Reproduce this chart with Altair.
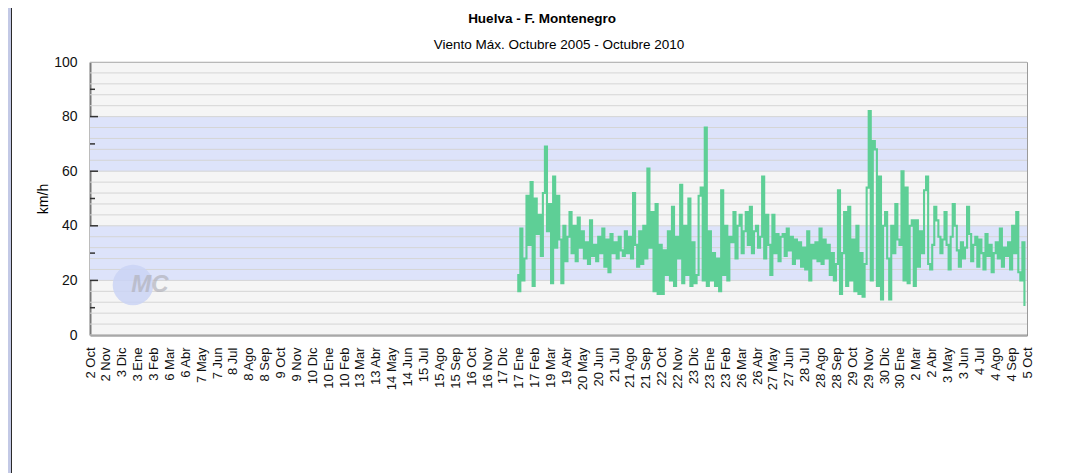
import json
import altair as alt
import pandas as pd

# ---------------- text ----------------
TITLE = "Huelva - F. Montenegro"
SUBTITLE = "Viento Máx. Octubre 2005 - Octubre 2010"
Y_TITLE = "km/h"

# ---------------- x tick labels (as printed) and their dates ----------------
TICK_LABELS = [
    "2 Oct", "2 Nov", "3 Dic", "3 Ene", "3 Feb", "6 Mar", "6 Abr", "7 May", "7 Jun", "8 Jul",
    "8 Ago", "8 Sep", "9 Oct", "9 Nov", "10 Dic", "10 Ene", "10 Feb", "13 Mar", "13 Abr", "14 May",
    "14 Jun", "15 Jul", "15 Ago", "15 Sep", "16 Oct", "16 Nov", "17 Dic", "17 Ene", "17 Feb", "19 Mar",
    "19 Abr", "20 May", "20 Jun", "21 Jul", "21 Ago", "21 Sep", "22 Oct", "22 Nov", "23 Dic", "23 Ene",
    "23 Feb", "26 Mar", "26 Abr", "27 May", "27 Jun", "28 Jul", "28 Ago", "28 Sep", "29 Oct", "29 Nov",
    "30 Dic", "30 Ene", "2 Mar", "2 Abr", "3 May", "3 Jun", "4 Jul", "4 Ago", "4 Sep", "5 Oct",
]
TICK_DATES = [
    "2005-10-02", "2005-11-02", "2005-12-03", "2006-01-03", "2006-02-03", "2006-03-06", "2006-04-06",
    "2006-05-07", "2006-06-07", "2006-07-08", "2006-08-08", "2006-09-08", "2006-10-09", "2006-11-09",
    "2006-12-10", "2007-01-10", "2007-02-10", "2007-03-13", "2007-04-13", "2007-05-14", "2007-06-14",
    "2007-07-15", "2007-08-15", "2007-09-15", "2007-10-16", "2007-11-16", "2007-12-17", "2008-01-17",
    "2008-02-17", "2008-03-19", "2008-04-19", "2008-05-20", "2008-06-20", "2008-07-21", "2008-08-21",
    "2008-09-21", "2008-10-22", "2008-11-22", "2008-12-23", "2009-01-23", "2009-02-23", "2009-03-26",
    "2009-04-26", "2009-05-27", "2009-06-27", "2009-07-28", "2009-08-28", "2009-09-28", "2009-10-29",
    "2009-11-29", "2009-12-30", "2010-01-30", "2010-03-02", "2010-04-02", "2010-05-03", "2010-06-03",
    "2010-07-04", "2010-08-04", "2010-09-04", "2010-10-05",
]

# ---------------- series: max wind (km/h), one reading every 4 days ----------------
SERIES_START = "2008-01-14"
SERIES_STEP_DAYS = 4
WIND_MAX = [
    22, 16, 39, 20, 28, 51, 33, 56, 18, 50, 37, 44, 29, 52, 69, 38, 48, 19, 58, 32,
    51, 35, 19, 40, 27, 36, 45, 30, 40, 27, 43, 32, 38, 28, 34, 26, 42, 29, 33, 27,
    36, 30, 39, 25, 35, 23, 37, 30, 34, 28, 36, 31, 29, 38, 30, 36, 28, 52, 33, 25,
    38, 26, 40, 28, 61, 32, 45, 16, 48, 15, 33, 15, 31, 22, 38, 20, 47, 18, 36, 28,
    55, 19, 40, 22, 50, 18, 34, 19, 22, 51, 54, 20, 76, 18, 38, 20, 30, 18, 28, 16,
    53, 22, 40, 20, 36, 34, 45, 28, 40, 44, 30, 38, 45, 33, 47, 30, 38, 40, 32, 36,
    58, 28, 44, 33,
    22, 44, 30, 37, 27, 36, 37, 29, 39, 31, 36, 26, 35, 28, 34, 25, 32, 24, 38, 20,
    33, 28, 34, 27, 39, 26, 35, 28, 33, 22, 30, 20, 26, 53, 15, 30, 45, 18, 47, 20,
    35, 16, 40, 15, 30, 14, 26, 54, 82, 20, 71, 68, 18, 58, 13, 40, 45, 28, 13, 40,
    30, 48, 35,
    33, 60, 20, 54, 19, 40, 42, 18, 42, 25, 38, 30, 53, 58, 26, 24, 33, 47, 42, 36,
    30, 35, 45, 33, 24, 36, 48, 40, 31, 25, 34, 28, 32, 47, 37, 27, 33, 36, 25, 35,
    30, 24, 37, 29, 33, 23, 30, 34, 28, 39, 25, 32, 29, 34, 24, 40, 30, 45, 23, 20,
    34, 11,
]

# ---------------- y axis decorations ----------------
Y_LABELS = [0, 20, 40, 60, 80, 100]
GRID_VALUES = list(range(0, 101, 4))
MAJOR_TICKS = [20, 40, 60, 80]
MINOR_TICKS = [10, 30, 50, 70, 90]
BAND_LOW = [20, 60]
BAND_HIGH = [40, 80]

# ---------------- styling ----------------
FONT = "Liberation Sans"
GREEN = "#5ecf96"
BAND_BLUE = "#dde3fa"
PLOT_BG = "#f5f5f5"
FRAME = "#c3c9e6"
W, H = 937, 273

origin = pd.Timestamp(TICK_DATES[0])
tick_days = [int((pd.Timestamp(d) - origin).days) for d in TICK_DATES]
start_day = int((pd.Timestamp(SERIES_START) - origin).days)
series = pd.DataFrame({
    "day": [start_day + SERIES_STEP_DAYS * i for i in range(len(WIND_MAX))],
    "kmh": WIND_MAX,
})

xscale = alt.Scale(domain=[0, tick_days[-1]], nice=False, zero=False)
yscale = alt.Scale(domain=[0, 100], nice=False)

label_expr = f"{json.dumps(TICK_LABELS)}[indexof({json.dumps(tick_days)}, datum.value)]"

bands = alt.Chart(pd.DataFrame({"lo": BAND_LOW, "hi": BAND_HIGH})).mark_rect(
    color=BAND_BLUE
).encode(
    x=alt.value(0), x2=alt.value(W),
    y=alt.Y("lo:Q", scale=yscale), y2="hi:Q",
)

grid = alt.Chart(pd.DataFrame({"g": GRID_VALUES})).mark_rule(
    color="#d5d5d5", strokeWidth=1
).encode(x=alt.value(0), x2=alt.value(W), y=alt.Y("g:Q", scale=yscale))

logo_circle = alt.Chart(pd.DataFrame({"a": [1]})).mark_point(
    shape="circle", filled=True, size=1650, color="#cad4f4", opacity=0.85
).encode(x=alt.value(43), y=alt.value(223))
logo_text = alt.Chart(pd.DataFrame({"t": ["MC"]})).mark_text(
    font=FONT, fontSize=24, fontStyle="italic", fontWeight="bold", color="#b0b0b8",
    opacity=0.65, align="center", baseline="middle"
).encode(text="t:N", x=alt.value(60), y=alt.value(223))

line = alt.Chart(series).mark_line(
    color=GREEN, strokeWidth=2.1, interpolate="step"
).encode(
    x=alt.X("day:Q", scale=xscale, axis=alt.Axis(
        values=tick_days, labelExpr=label_expr, labelAngle=270, labelAlign="right",
        labelBaseline="middle", labelPadding=12, labelFontSize=13, labelFont=FONT,
        labelColor="#111111", ticks=False, grid=False, title=None,
        labelOverlap=False, labelFlush=False,
        domainColor="#7a7a7a", domainWidth=2,
    )),
    y=alt.Y("kmh:Q", scale=yscale, axis=alt.Axis(
        values=Y_LABELS, grid=False, ticks=False, title=None, labelPadding=13,
        labelFontSize=14, labelFont=FONT, labelColor="#111111",
        domainColor="#7a7a7a", domainWidth=2,
    )),
)

major = alt.Chart(pd.DataFrame({"v": MAJOR_TICKS})).mark_rule(
    color="#333333", strokeWidth=1.5
).encode(x=alt.value(0), x2=alt.value(8), y=alt.Y("v:Q", scale=yscale))
minor = alt.Chart(pd.DataFrame({"v": MINOR_TICKS})).mark_rule(
    color="#333333", strokeWidth=1.5
).encode(x=alt.value(0), x2=alt.value(5), y=alt.Y("v:Q", scale=yscale))

title = alt.Chart(pd.DataFrame({"t": [TITLE]})).mark_text(
    font=FONT, fontSize=13.5, fontWeight="bold", color="#000000", align="center", baseline="middle"
).encode(text="t:N", x=alt.value(452), y=alt.value(-43))
subtitle = alt.Chart(pd.DataFrame({"t": [SUBTITLE]})).mark_text(
    font=FONT, fontSize=13.5, color="#000000", align="center", baseline="middle"
).encode(text="t:N", x=alt.value(469), y=alt.value(-17))
ytitle = alt.Chart(pd.DataFrame({"t": [Y_TITLE]})).mark_text(
    font=FONT, fontSize=14, color="#000000", align="center", baseline="middle", angle=270
).encode(text="t:N", x=alt.value(-46), y=alt.value(137))

frame_strip = alt.Chart(pd.DataFrame({"a": [1]})).mark_rect(color=FRAME).encode(
    x=alt.value(-82), x2=alt.value(-79), y=alt.value(-54), y2=alt.value(411)
)
frame_line = alt.Chart(pd.DataFrame({"a": [1]})).mark_rect(color="#2a2a2a").encode(
    x=alt.value(-79), x2=alt.value(-78), y=alt.value(-54), y2=alt.value(411)
)

chart = alt.layer(
    bands, grid, logo_circle, logo_text, line, major, minor,
    title, subtitle, ytitle, frame_strip, frame_line,
).properties(
    width=W, height=H,
    autosize=alt.AutoSizeParams(type="none"),
    padding={"left": 82, "top": 54, "right": 49, "bottom": 138},
    background="#ffffff",
).configure_view(
    fill=PLOT_BG, stroke="#9a9a9a", strokeWidth=1
)

chart.save("out.html", embed_options={"renderer": "svg", "actions": False})
